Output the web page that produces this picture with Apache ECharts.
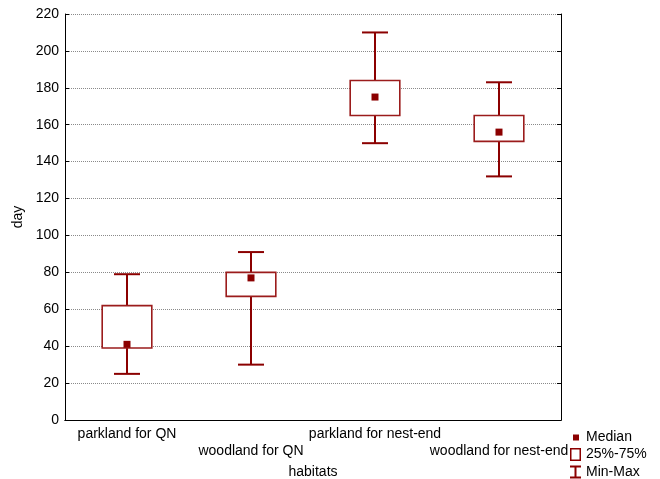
<!DOCTYPE html>
<html lang="en">
<head>
    <meta charset="UTF-8">
    <title>habitats box plot</title>
    <script src="https://cdn.jsdelivr.net/npm/echarts@6/dist/echarts.min.js"></script>
</head>
<body style="margin:0">
    <div id="main" style="width:660px; height:479px;"></div>
    <script>
        // data
        var categories = ['parkland for QN', 'woodland for QN', 'parkland for nest-end', 'woodland for nest-end'];
        var minVals = [25, 30, 150, 132];
        var q1Vals = [39, 67, 165, 151];
        var medianVals = [41, 77, 175, 156];
        var q3Vals = [62, 80, 184, 165];
        var maxVals = [79, 91, 210, 183];
        var yTicks = [0, 20, 40, 60, 80, 100, 120, 140, 160, 180, 200, 220];

        var red = '#8b0000';
        var font = 'Liberation Sans, Arial, sans-serif';

        var whiskerData = categories.map(function (c, i) { return [i, minVals[i], maxVals[i]]; });
        var boxData = categories.map(function (c, i) { return [i, q1Vals[i], q3Vals[i]]; });
        var medData = categories.map(function (c, i) { return [i, medianVals[i]]; });

        function renderWhisker(params, api) {
            var lo = api.coord([api.value(0), api.value(1)]);
            var hi = api.coord([api.value(0), api.value(2)]);
            var half = api.size([1, 0])[0] * 0.105;
            var st = { stroke: red, lineWidth: 2 };
            return {
                type: 'group',
                children: [
                    { type: 'line', shape: { x1: lo[0], y1: lo[1], x2: hi[0], y2: hi[1] }, style: st },
                    { type: 'line', shape: { x1: lo[0] - half, y1: lo[1], x2: lo[0] + half, y2: lo[1] }, style: st },
                    { type: 'line', shape: { x1: hi[0] - half, y1: hi[1], x2: hi[0] + half, y2: hi[1] }, style: st }
                ]
            };
        }

        function renderBox(params, api) {
            var lo = api.coord([api.value(0), api.value(1)]);
            var hi = api.coord([api.value(0), api.value(2)]);
            var w = api.size([1, 0])[0] * 0.4;
            return {
                type: 'rect',
                shape: { x: lo[0] - w / 2, y: hi[1], width: w, height: lo[1] - hi[1] },
                style: { fill: '#fff', stroke: '#9b1c1c', lineWidth: 1.6 }
            };
        }

        function renderMedian(params, api) {
            var p = api.coord([api.value(0), api.value(1)]);
            var s = 7;
            return {
                type: 'rect',
                shape: { x: p[0] - s / 2, y: p[1] - s / 2, width: s, height: s },
                style: { fill: red }
            };
        }

        var chart = echarts.init(document.getElementById('main'));
        var option = {
            backgroundColor: '#fff',
            animation: false,
            textStyle: { fontFamily: font },
            grid: { left: 65, right: 99, top: 14, bottom: 59, outerBoundsMode: 'none' },
            legend: {
                orient: 'vertical',
                left: 570,
                top: 430,
                padding: 0,
                itemWidth: 11,
                itemHeight: 13,
                itemGap: 3.5,
                selectedMode: false,
                textStyle: { fontSize: 14, color: '#000', fontFamily: font, padding: [0, 0, 0, 0] },
                data: [
                    { name: 'Median', icon: 'path://M0,0L0,0M11,13L11,13M3,4H9V10H3Z', itemStyle: { color: red } },
                    { name: '25%-75%', icon: 'path://M0,0H11V13H0ZM1.5,1.5V11.5H9.5V1.5Z', itemStyle: { color: red } },
                    { name: 'Min-Max', icon: 'path://M0,0H11V2H6.5V11H11V13H0V11H4.5V2H0Z', itemStyle: { color: red } }
                ]
            },
            xAxis: [{
                type: 'category',
                data: categories,
                name: 'habitats',
                nameLocation: 'middle',
                nameGap: 44,
                nameTextStyle: { fontSize: 14, color: '#000', fontFamily: font },
                axisLine: { lineStyle: { color: '#000', width: 1 } },
                axisTick: { inside: true, alignWithLabel: true, length: 4, lineStyle: { color: '#000' } },
                axisLabel: {
                    interval: 0,
                    fontSize: 14,
                    color: '#000',
                    lineHeight: 17,
                    margin: 6,
                    formatter: function (v, i) { return i % 2 ? '\n' + v : v; }
                },
                splitLine: { show: false }
            }, {
                type: 'category',
                data: categories,
                position: 'top',
                axisLine: { lineStyle: { color: '#000', width: 1 } },
                axisTick: { inside: true, alignWithLabel: true, length: 4, lineStyle: { color: '#000' } },
                axisLabel: { show: false },
                splitLine: { show: false }
            }],
            yAxis: [{
                type: 'value',
                min: yTicks[0],
                max: yTicks[yTicks.length - 1],
                interval: yTicks[1] - yTicks[0],
                name: 'day',
                nameLocation: 'middle',
                nameGap: 37,
                nameTextStyle: { fontSize: 14, color: '#000', fontFamily: font },
                axisLine: { show: true, lineStyle: { color: '#000', width: 1 } },
                axisTick: { show: true, inside: true, length: 4, lineStyle: { color: '#000' } },
                axisLabel: { fontSize: 14, color: '#000', margin: 6 },
                splitLine: { show: true, lineStyle: { type: 'dotted', color: '#8a8a8a', width: 1 } }
            }, {
                type: 'value',
                position: 'right',
                min: yTicks[0],
                max: yTicks[yTicks.length - 1],
                interval: yTicks[1] - yTicks[0],
                axisLine: { show: true, lineStyle: { color: '#000', width: 1 } },
                axisTick: { show: true, inside: true, length: 4, lineStyle: { color: '#000' } },
                axisLabel: { show: false },
                splitLine: { show: false }
            }],
            series: [{
                name: 'Min-Max',
                type: 'custom',
                color: red,
                z: 2,
                renderItem: renderWhisker,
                encode: { x: 0, y: [1, 2] },
                data: whiskerData
            }, {
                name: '25%-75%',
                type: 'custom',
                color: red,
                z: 3,
                renderItem: renderBox,
                encode: { x: 0, y: [1, 2] },
                data: boxData
            }, {
                name: 'Median',
                type: 'custom',
                color: red,
                z: 4,
                renderItem: renderMedian,
                encode: { x: 0, y: 1 },
                data: medData
            }]
        };
        chart.setOption(option);
    </script>
</body>
</html>
